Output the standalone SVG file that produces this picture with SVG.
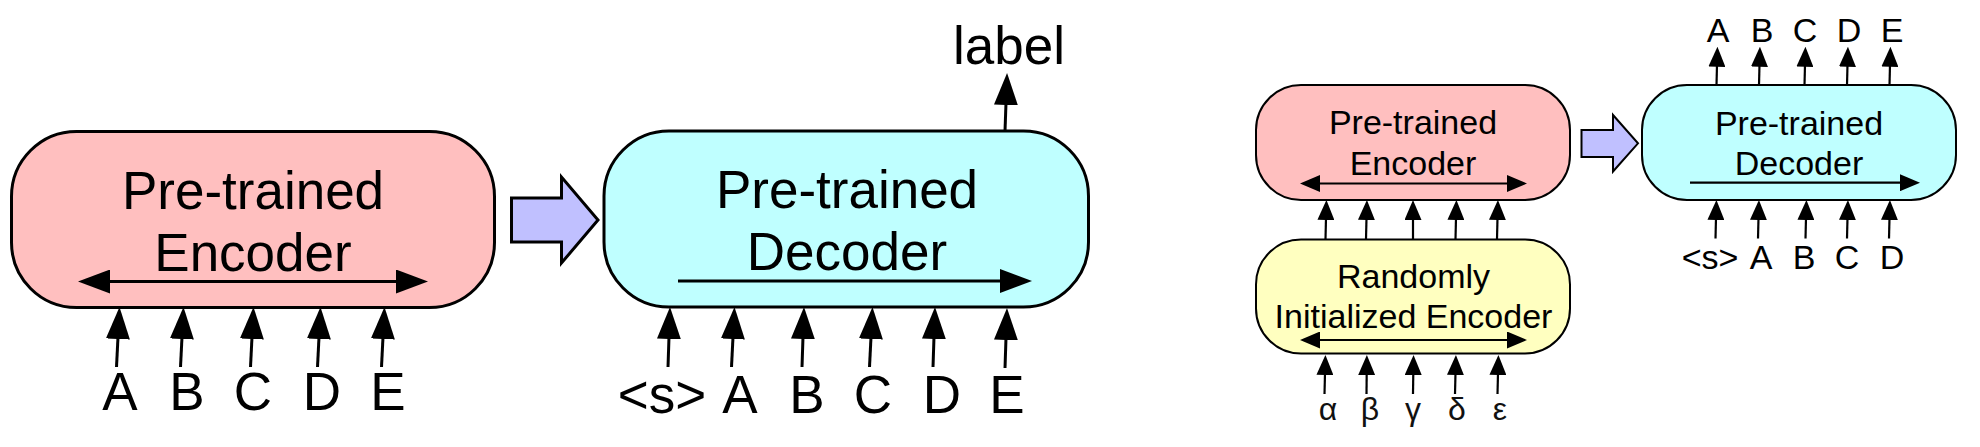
<svg xmlns="http://www.w3.org/2000/svg" width="1980" height="447" viewBox="0 0 1980 447">
<style>
text{font-family:"Liberation Sans",Arial,Helvetica,sans-serif;fill:#000;text-anchor:middle}
.big{font-size:53px}
.sm{font-size:34px}
.gr{font-size:32px;fill:#111}
.box{stroke:#000;stroke-width:3}
.sbox{stroke:#000;stroke-width:2}
.enc{fill:#FFBFBF}
.dec{fill:#BFFFFF}
.rnd{fill:#FFFFC0}
.blk{fill:#C0C0FF;stroke:#000;stroke-linejoin:miter}
.L{stroke:#000;stroke-width:3;fill:none;marker-end:url(#hb)}
.L2{stroke:#000;stroke-width:3;fill:none;marker-start:url(#hb);marker-end:url(#hb)}
.S{stroke:#000;stroke-width:2.2;fill:none;marker-end:url(#hs)}
.S2{stroke:#000;stroke-width:2.2;fill:none;marker-start:url(#hs);marker-end:url(#hs)}
</style>
<defs>
<marker id="hb" markerUnits="userSpaceOnUse" viewBox="0 -12 32 24" markerWidth="32" markerHeight="24" refX="2" refY="0" orient="auto-start-reverse"><path d="M0,-12 L32,0 L0,12 Z" fill="#000"/></marker>
<marker id="hs" markerUnits="userSpaceOnUse" viewBox="0 -8.5 20 17" markerWidth="20" markerHeight="17" refX="2" refY="0" orient="auto-start-reverse"><path d="M0,-8.5 L20,0 L0,8.5 Z" fill="#000"/></marker>
</defs>

<g id="enc-big">
<rect class="box enc" x="11.5" y="131.5" width="483" height="176" rx="65" ry="65"/>
<text class="big" x="253" y="209">Pre-trained</text>
<text class="big" x="253" y="271">Encoder</text>
</g>
<g id="transfer-big">
<polygon class="blk" stroke-width="3" points="511.5,198 561.5,198 561.5,177 598,220 561.5,263 561.5,242 511.5,242"/>
</g>
<g id="dec-big">
<rect class="box dec" x="604" y="131" width="484.5" height="176" rx="65" ry="65"/>
<text class="big" x="847" y="208">Pre-trained</text>
<text class="big" x="847" y="270">Decoder</text>
</g>
<g id="enc-inputs">
<text class="big" x="120" y="410">A</text>
<text class="big" x="187" y="410">B</text>
<text class="big" x="253" y="410">C</text>
<text class="big" x="322" y="410">D</text>
<text class="big" x="388" y="410">E</text>
</g>
<g id="dec-inputs">
<text class="big" x="662" y="413">&lt;s&gt;</text>
<text class="big" x="740" y="413">A</text>
<text class="big" x="807" y="413">B</text>
<text class="big" x="873" y="413">C</text>
<text class="big" x="942" y="413">D</text>
<text class="big" x="1007" y="413">E</text>
</g>
<g id="label-out">
<text class="big" x="1009" y="64">label</text>
</g>

<g id="enc-small">
<rect class="sbox enc" x="1256" y="85" width="314" height="115" rx="45" ry="45"/>
<text class="sm" x="1413" y="134">Pre-trained</text>
<text class="sm" x="1413" y="175">Encoder</text>
</g>
<g id="rand-enc">
<rect class="sbox rnd" x="1256" y="239.5" width="314" height="114" rx="45" ry="45"/>
<text class="sm" x="1413.5" y="288">Randomly</text>
<text class="sm" x="1413.5" y="328">Initialized Encoder</text>
</g>
<g id="greek-inputs">
<text class="gr" x="1328" y="420">α</text>
<text class="gr" x="1370" y="420">β</text>
<text class="gr" x="1413" y="420">γ</text>
<text class="gr" x="1457" y="420">δ</text>
<text class="gr" x="1500" y="420">ε</text>
</g>
<g id="transfer-small">
<polygon class="blk" stroke-width="2" points="1581.5,130 1613,130 1613,115 1638,143.3 1613,171.5 1613,157 1581.5,157"/>
</g>
<g id="dec-small">
<rect class="sbox dec" x="1642" y="85" width="314" height="115" rx="45" ry="45"/>
<text class="sm" x="1799" y="135">Pre-trained</text>
<text class="sm" x="1799" y="175">Decoder</text>
</g>
<g id="dec-small-outputs">
<text class="sm" x="1718" y="41.7">A</text>
<text class="sm" x="1762" y="41.7">B</text>
<text class="sm" x="1805" y="41.7">C</text>
<text class="sm" x="1849" y="41.7">D</text>
<text class="sm" x="1892" y="41.7">E</text>
</g>
<g id="dec-small-inputs">
<text class="sm" x="1710" y="268.5">&lt;s&gt;</text>
<text class="sm" x="1761" y="268.5">A</text>
<text class="sm" x="1804" y="268.5">B</text>
<text class="sm" x="1847" y="268.5">C</text>
<text class="sm" x="1892" y="268.5">D</text>
</g>

<g id="connectors">
<line class="L2" x1="108" y1="281.5" x2="398" y2="281.5"/>
<line class="L" x1="116.5" y1="367" x2="118" y2="337"/>
<line class="L" x1="180.5" y1="367" x2="182" y2="337"/>
<line class="L" x1="250.5" y1="367" x2="252" y2="337"/>
<line class="L" x1="317.5" y1="367" x2="319" y2="337"/>
<line class="L" x1="381.5" y1="367" x2="383" y2="337"/>

<line class="L" x1="678" y1="281" x2="1002" y2="281"/>
<line class="L" x1="668" y1="367" x2="669" y2="337"/>
<line class="L" x1="731.5" y1="367" x2="733" y2="337"/>
<line class="L" x1="802" y1="367" x2="803" y2="337"/>
<line class="L" x1="869.5" y1="367" x2="871" y2="337"/>
<line class="L" x1="933" y1="367" x2="934" y2="337"/>
<line class="L" x1="1005" y1="368" x2="1006" y2="338"/>
<line class="L" x1="1005" y1="131" x2="1006" y2="103"/>

<line class="S2" x1="1318" y1="183.5" x2="1509" y2="183.5"/>
<line class="S2" x1="1318" y1="340" x2="1509" y2="340"/>
<line class="S" x1="1325.5" y1="239" x2="1326" y2="218"/>
<line class="S" x1="1366" y1="239" x2="1366.5" y2="218"/>
<line class="S" x1="1413" y1="239" x2="1413" y2="218"/>
<line class="S" x1="1455.5" y1="239" x2="1456" y2="218"/>
<line class="S" x1="1497" y1="239" x2="1497.5" y2="218"/>
<line class="S" x1="1324.5" y1="394" x2="1325" y2="373"/>
<line class="S" x1="1366.5" y1="394" x2="1366.7" y2="373"/>
<line class="S" x1="1413" y1="394" x2="1413.3" y2="373"/>
<line class="S" x1="1455" y1="394" x2="1455.5" y2="373"/>
<line class="S" x1="1497.5" y1="394" x2="1498" y2="373"/>

<line class="S" x1="1690" y1="182.7" x2="1902" y2="182.7"/>
<line class="S" x1="1716.5" y1="85" x2="1717" y2="64.7"/>
<line class="S" x1="1759" y1="85" x2="1759.5" y2="64.7"/>
<line class="S" x1="1804.5" y1="85" x2="1805" y2="64.7"/>
<line class="S" x1="1847" y1="85" x2="1847.5" y2="64.7"/>
<line class="S" x1="1889.5" y1="85" x2="1890" y2="64.7"/>
<line class="S" x1="1715.5" y1="238.5" x2="1716" y2="218"/>
<line class="S" x1="1758" y1="238.5" x2="1758.5" y2="218"/>
<line class="S" x1="1805.5" y1="238.5" x2="1806" y2="218"/>
<line class="S" x1="1847" y1="238.5" x2="1847.5" y2="218"/>
<line class="S" x1="1889" y1="238.5" x2="1889.5" y2="218"/>
</g>
</svg>
